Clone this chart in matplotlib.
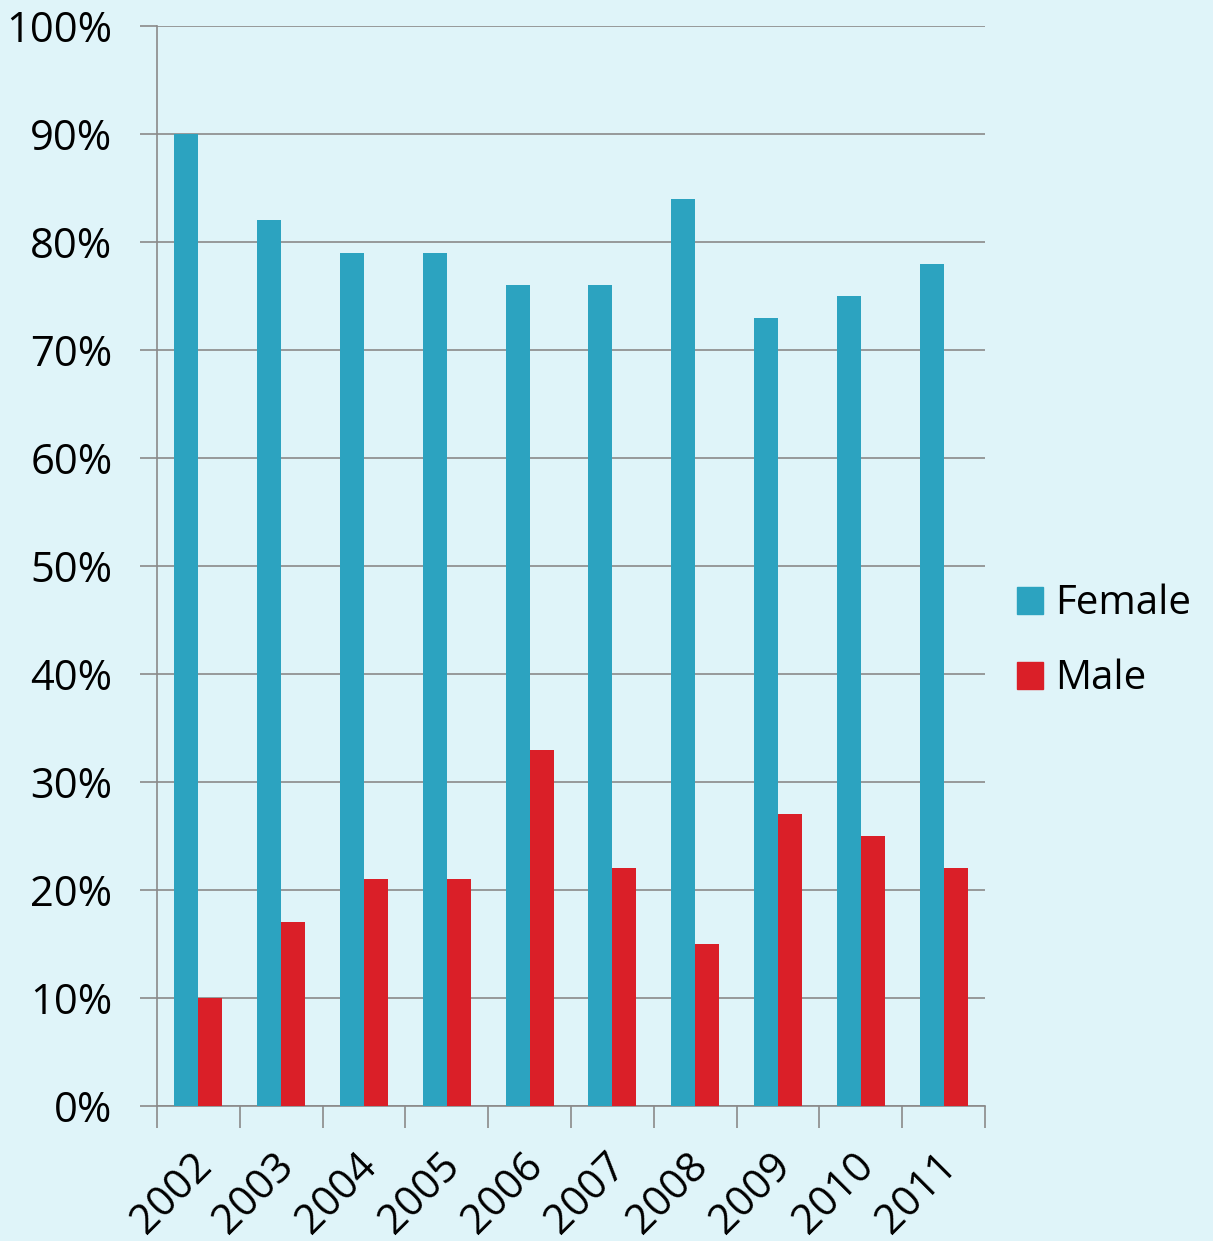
import numpy as np
import matplotlib.pyplot as plt
import matplotlib.transforms as mtransforms
from matplotlib.patches import Patch

years = ['2002', '2003', '2004', '2005', '2006', '2007', '2008', '2009', '2010', '2011']
female = [90, 82, 79, 79, 76, 76, 84, 73, 75, 78]
male = [10, 17, 21, 21, 33, 22, 15, 27, 25, 22]

BG = '#dff4f9'
FEMALE_C = '#2ca3c0'
MALE_C = '#da1f28'
GRID_C = '#8a8a8a'

plt.rcParams['font.family'] = ['Open Sans', 'DejaVu Sans']

fig = plt.figure(figsize=(12.13, 12.41), dpi=100, facecolor=BG)
ax = fig.add_axes([0.1294, 0.1088, 0.6826, 0.8703])
ax.set_facecolor(BG)

x = np.arange(len(years))
w = 0.29
ax.bar(x - w / 2, female, width=w, color=FEMALE_C, label='Female', zorder=3)
ax.bar(x + w / 2, male, width=w, color=MALE_C, label='Male', zorder=3)

ax.set_xlim(-0.5, len(years) - 0.5)
ax.set_ylim(0, 100)
ax.set_yticks(np.arange(0, 101, 10))
ax.set_yticklabels([f'{v}%' for v in range(0, 101, 10)], fontsize=30)
ax.yaxis.grid(True, color=GRID_C, linewidth=1.2, zorder=0)

ax.set_xticks(x)
ax.set_xticklabels(years, fontsize=30, rotation=45, ha='right', rotation_mode='anchor')
ax.tick_params(axis='x', which='major', length=0, pad=28)
ax.set_xticks(np.arange(-0.5, len(years)), minor=True)
ax.tick_params(axis='x', which='minor', length=16, width=1.2, color=GRID_C)
ax.tick_params(axis='y', length=12, width=1.2, color=GRID_C, pad=20)

# nudge rotated year labels a little to the left
shift = mtransforms.ScaledTranslation(-0.08, 0, fig.dpi_scale_trans)
for lbl in ax.get_xticklabels():
    lbl.set_transform(lbl.get_transform() + shift)

for s in ['top', 'right']:
    ax.spines[s].set_visible(False)
for s in ['left', 'bottom']:
    ax.spines[s].set_color(GRID_C)
    ax.spines[s].set_linewidth(1.2)

handles = [Patch(color=FEMALE_C, label='Female'), Patch(color=MALE_C, label='Male')]
fig.legend(handles=handles, loc='center left', bbox_to_anchor=(0.825, 0.483),
           frameon=False, fontsize=29, handlelength=0.65, handleheight=0.65,
           handletextpad=0.3, labelspacing=0.85, borderaxespad=0)

fig.savefig('out.png', dpi=100, facecolor=BG)
